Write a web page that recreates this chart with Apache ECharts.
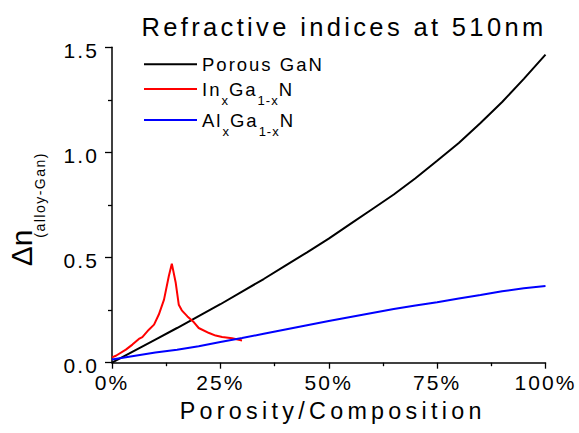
<!DOCTYPE html>
<html><head><meta charset="utf-8">
<script src="https://cdn.jsdelivr.net/npm/echarts@6/dist/echarts.min.js"></script>
<style>html,body{margin:0;padding:0;background:#fff}#chart{width:579px;height:433px}</style>
</head><body><div id="chart"></div>
<script>
// ---- data ----
const titleText = 'Refractive indices at 510nm';
const xAxisTitle = 'Porosity/Composition';
const yAxisTitle = '{d|Δn}{s|(alloy-Gan)}';
const seriesNames = ['Porous GaN', 'InxGa1-xN', 'AlxGa1-xN'];
const legendLabels = ['{b|Porous GaN}', '{a|In}{x|x}{a|Ga}{y|1-x}{b|N}', '{a|Al}{x|x}{a|Ga}{y|1-x}{b|N}'];

const gridX = [0, 5, 10, 15, 20, 25, 30, 35, 40, 45, 50, 55, 60, 65, 70, 75, 80, 85, 90, 95, 100];
const porousGaN = [0, 0.055, 0.11, 0.165, 0.222, 0.278, 0.338, 0.398, 0.462, 0.525, 0.59, 0.66, 0.73, 0.80, 0.877, 0.96, 1.045, 1.14, 1.24, 1.35, 1.465];
const alGaN = [0.015, 0.032, 0.048, 0.062, 0.078, 0.098, 0.117, 0.138, 0.158, 0.178, 0.198, 0.217, 0.236, 0.255, 0.272, 0.288, 0.305, 0.322, 0.340, 0.354, 0.365];

const inGaNX = [0, 0.9, 3.2, 4.7, 6.2, 7.0, 8.5, 9.7, 10.8, 12.0, 13.1, 13.8, 14.7, 15.4, 16.1, 17.4, 18.9, 20.0, 22.4, 23.9, 25.4, 27.7, 30.0];
const inGaN = [0.025, 0.033, 0.062, 0.086, 0.113, 0.122, 0.157, 0.181, 0.229, 0.300, 0.411, 0.471, 0.380, 0.276, 0.249, 0.220, 0.192, 0.165, 0.141, 0.129, 0.122, 0.116, 0.106];

const xTickStep = 25;
const yTickStep = 0.5;

// ---- chart ----
const FONT = 'Liberation Sans';
const pairs = (xs, ys) => xs.map((x, i) => [x, ys[i]]);
const colors = ['#000000', '#ff0000', '#0000ff'];

const legendRich = {
  a: {fontFamily: FONT, fontSize: 18.5, lineHeight: 35, color: '#000', padding: [0, 4, 0, 0]},
  b: {fontFamily: FONT, fontSize: 18.5, lineHeight: 35, color: '#000'},
  x: {fontFamily: FONT, fontSize: 13, lineHeight: 13, verticalAlign: 'bottom', color: '#000', padding: [0, 1, 0, 0]},
  y: {fontFamily: FONT, fontSize: 13, lineHeight: 13, verticalAlign: 'bottom', color: '#000', padding: [0, 3, 0, 0]}
};
const legendTops = [54.8, 79.5, 110.5];
const legendRowRich = [
  {b: {fontFamily: FONT, fontSize: 18.5, lineHeight: 20, color: '#000'}},
  legendRich, legendRich
];

const chart = echarts.init(document.getElementById('chart'), null, {renderer: 'svg'});
chart.setOption({
  animation: false,
  backgroundColor: '#fff',
  title: {
    text: titleText, left: 344, top: 13.5, textAlign: 'center', textVerticalAlign: 'top', padding: 0,
    textStyle: {fontFamily: FONT, fontSize: 25.5, fontWeight: 'normal', color: '#000'}
  },
  legend: seriesNames.map((n, i) => ({
    data: [n], left: 144, top: legendTops[i], orient: 'vertical', padding: 0,
    icon: 'rect', itemWidth: 53, itemHeight: 2, selectedMode: false,
    formatter: () => legendLabels[i],
    textStyle: {fontFamily: FONT, fontSize: 18.5, color: '#000', rich: legendRowRich[i]}
  })),
  grid: {left: 112, right: 33.5, top: 47.3, bottom: 70.3, containLabel: false, outerBoundsMode: 'none'},
  xAxis: {
    type: 'value', min: 0, max: 100, interval: xTickStep,
    name: xAxisTitle, nameLocation: 'middle', nameGap: 37, nameMoveOverlap: false,
    nameTextStyle: {fontFamily: FONT, fontSize: 23.3, color: '#000', padding: [0, 0, 0, 8]},
    axisLine: {show: true, onZero: false, lineStyle: {color: '#000', width: 1.5}},
    axisTick: {show: true, inside: false, length: 6, lineStyle: {color: '#000', width: 1.3}},
    minorTick: {show: true, splitNumber: 2, length: 3.5, lineStyle: {color: '#000', width: 1.3}},
    splitLine: {show: false}, minorSplitLine: {show: false},
    axisLabel: {formatter: '{value}%', fontFamily: FONT, fontSize: 21, color: '#000', margin: 9}
  },
  yAxis: {
    type: 'value', min: 0, max: 1.5, interval: yTickStep,
    name: yAxisTitle, nameLocation: 'middle', nameRotate: 90, nameGap: 65.3, nameMoveOverlap: false,
    nameTextStyle: {
      fontFamily: FONT, color: '#000',
      rich: {
        d: {fontFamily: FONT, fontSize: 30, lineHeight: 51, color: '#000'},
        s: {fontFamily: FONT, fontSize: 14, lineHeight: 14, verticalAlign: 'bottom', color: '#000', padding: [0, 16.5, 0, 0]}
      }
    },
    axisLine: {show: true, onZero: false, lineStyle: {color: '#000', width: 1.5}},
    axisTick: {show: true, inside: false, length: 7, lineStyle: {color: '#000', width: 1.3}},
    minorTick: {show: true, splitNumber: 2, length: 4, lineStyle: {color: '#000', width: 1.3}},
    splitLine: {show: false}, minorSplitLine: {show: false},
    axisLabel: {formatter: v => v.toFixed(1), fontFamily: FONT, fontSize: 21, color: '#000', margin: 13,
                verticalAlign: 'top', lineHeight: 6}
  },
  series: [
    {name: seriesNames[0], type: 'line', data: pairs(gridX, porousGaN), symbol: 'none', showSymbol: false,
     lineStyle: {color: colors[0], width: 2}, itemStyle: {color: colors[0]}},
    {name: seriesNames[1], type: 'line', data: pairs(inGaNX, inGaN), symbol: 'none', showSymbol: false,
     lineStyle: {color: colors[1], width: 2}, itemStyle: {color: colors[1]}},
    {name: seriesNames[2], type: 'line', data: pairs(gridX, alGaN), symbol: 'none', showSymbol: false,
     lineStyle: {color: colors[2], width: 2}, itemStyle: {color: colors[2]}}
  ]
});

// letter spacing per font size (the reference text is widely tracked)
const LS = {25.5: 3.35, 23.3: 4.3, 21: 2.1, 18.5: 2, 13: 1, 14: 1.5, 30: 0};
function applySpacing() {
  document.querySelectorAll('#chart svg text').forEach(t => {
    const fs = parseFloat(getComputedStyle(t).fontSize);
    for (const k in LS) {
      if (Math.abs(fs - parseFloat(k)) < 0.05) t.style.letterSpacing = LS[k] + 'px';
    }
  });
}
try { chart.getZr().flush(); } catch (e) {}
applySpacing();
chart.on('finished', applySpacing);
setTimeout(applySpacing, 50);
setTimeout(applySpacing, 300);
</script></body></html>
